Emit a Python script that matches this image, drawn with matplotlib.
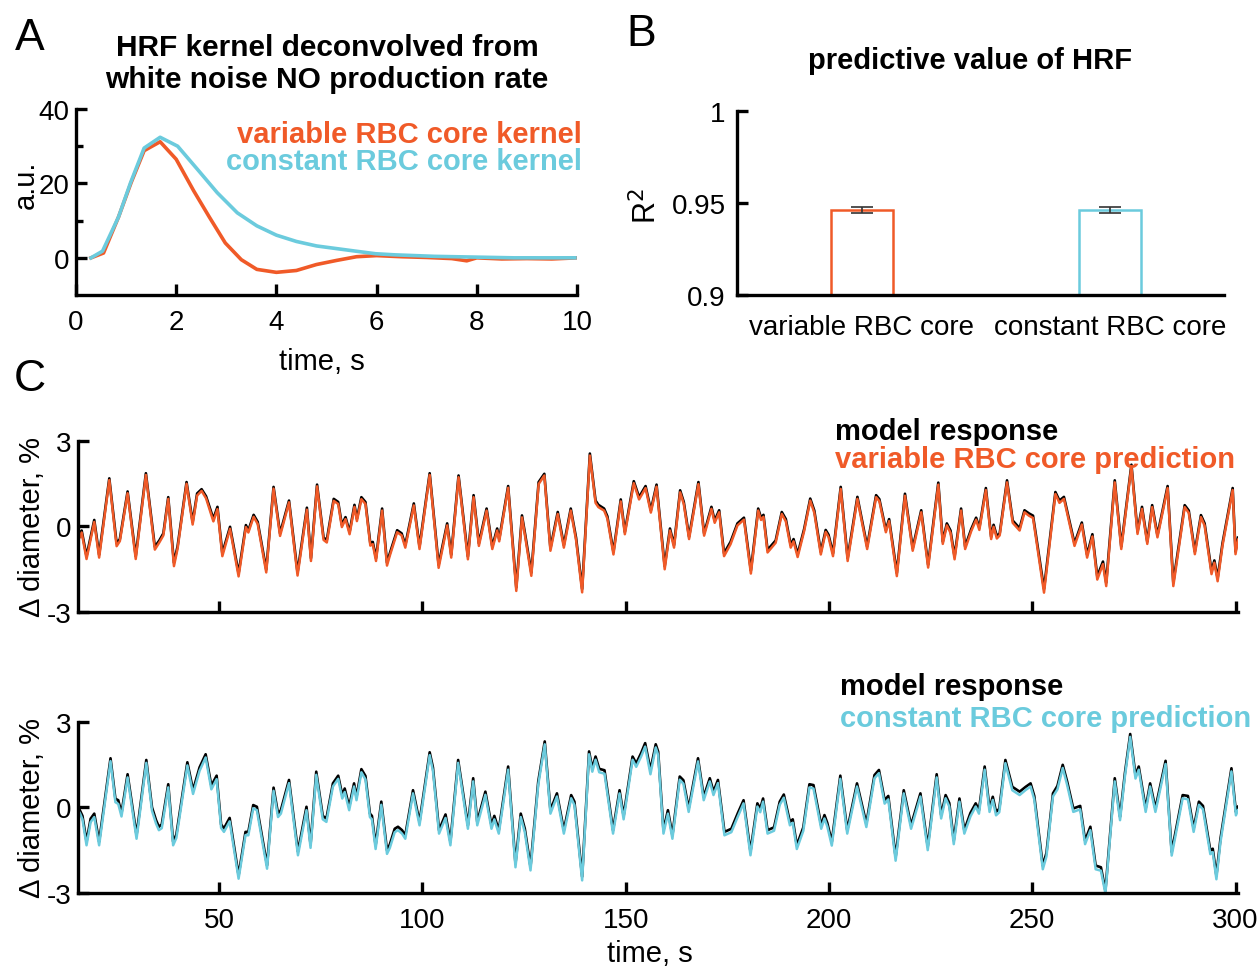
import matplotlib
matplotlib.use('Agg')
import matplotlib.pyplot as plt

plt.rcParams['font.family'] = ['Liberation Sans', 'DejaVu Sans']
plt.rcParams['axes.unicode_minus'] = False
plt.rcParams['lines.solid_joinstyle'] = 'round'

orange = '#F05A28'
cyan = '#6BCBDD'

# panel A: deconvolved HRF kernels (a.u.)
var_kt = [0.3, 0.55, 0.85, 1.1, 1.36, 1.68, 2.0, 2.35, 2.66, 2.98, 3.3, 3.61, 4.0, 4.4,
          4.8, 5.2, 5.6, 6.0, 6.5, 7.0, 7.5, 7.8, 8.0, 8.5, 9.0, 9.5, 10.0]
var_kernel = [0, 1.3, 11, 20.2, 28.8, 31.2, 26.5, 18, 11, 4, -0.5, -3.1, -3.9, -3.4,
              -1.8, -0.7, 0.3, 0.6, 0.3, 0.1, -0.2, -0.8, 0, -0.3, -0.2, -0.3, 0]
con_kt = [0.3, 0.53, 0.85, 1.09, 1.36, 1.68, 2.03, 2.43, 2.82, 3.22, 3.61, 4.0, 4.4,
          4.8, 5.19, 5.58, 5.98, 6.37, 7.16, 7.95, 8.74, 9.96]
con_kernel = [0, 1.8, 11, 20.2, 29.5, 32.4, 30, 23.7, 17.5, 12.1, 8.6, 6.1, 4.4,
              3.2, 2.5, 1.8, 1.1, 0.8, 0.4, 0.2, 0, 0]

# panel B: R^2 of the prediction
bar_names = ['variable RBC core', 'constant RBC core']
bar_r2 = [0.9462, 0.9463]
bar_err = [0.0018, 0.0015]

# panel C top: model response vs variable RBC core prediction
top_t = [15.8, 16.2, 17.4, 19.3, 20.5, 23.0, 24.8, 25.6, 27.5, 29.5,
         32.0, 34.2, 35.3, 36.3, 37.5, 38.9, 39.8, 42.0, 43.5, 44.6,
         45.7, 46.8, 48.6, 49.6, 50.8, 52.7, 54.8, 56.6, 57.2, 58.5,
         59.5, 61.6, 63.4, 65.0, 67.2, 69.3, 71.6, 72.6, 74.1, 75.7,
         76.5, 78.2, 79.3, 80.2, 81.1, 82.1, 83.3, 83.9, 85.0, 86.0,
         87.2, 87.8, 88.6, 90.1, 91.3, 92.0, 93.8, 94.9, 95.8, 97.9,
         99.3, 101.8, 104.0, 106.1, 107.1, 108.9, 111.2, 112.6, 113.9, 115.8,
         117.2, 118.4, 118.9, 121.1, 123.1, 124.5, 125.3, 126.8, 128.6, 130.0,
         131.5, 133.3, 134.8, 136.5, 137.8, 139.3, 141.2, 142.6, 143.3, 144.7,
         145.5, 147.0, 148.8, 149.8, 152.0, 153.3, 154.9, 156.2, 157.6, 159.6,
         160.9, 161.9, 163.4, 164.3, 165.6, 167.9, 169.3, 171.1, 171.9, 173.0,
         174.2, 175.8, 177.5, 179.1, 180.8, 182.6, 183.3, 183.9, 184.9, 186.9,
         188.4, 189.4, 190.6, 191.3, 192.3, 193.9, 195.4, 196.4, 198.0, 199.2,
         199.9, 201.0, 202.9, 204.6, 207.0, 209.4, 211.6, 212.4, 214.0, 214.8,
         216.7, 218.7, 220.6, 222.7, 224.4, 226.9, 228.0, 229.0, 229.9, 230.9,
         232.5, 233.5, 235.0, 236.2, 237.0, 238.6, 239.9, 240.5, 241.3, 242.0,
         243.8, 245.2, 246.9, 248.1, 249.2, 250.2, 252.9, 255.7, 256.7, 257.8,
         260.4, 262.2, 263.5, 264.8, 266.0, 267.4, 268.2, 270.3, 271.9, 274.4,
         275.9, 277.0, 278.3, 279.5, 280.8, 283.3, 284.7, 287.5, 288.5, 290.0,
         291.5, 292.4, 294.1, 294.8, 295.6, 296.8, 299.3, 300.0, 300.6]
top_model = [-0.30, -0.15, -1.05, 0.22, -1.00, 1.68, -0.60, -0.45, 1.22, -1.05,
             1.86, -0.72, -0.50, -0.25, 1.02, -1.28, -0.70, 1.55, 0.15, 1.15,
             1.30, 1.05, 0.26, 0.68, -0.95, -0.02, -1.65, 0.04, -0.15, 0.40,
             0.15, -1.52, 1.38, -0.25, 0.90, -1.62, 0.65, -1.12, 1.46, -0.40,
             -0.48, 0.96, 0.85, 0.05, 0.32, -0.20, 0.75, 0.26, 1.02, 0.85,
             -0.60, -0.55, -1.12, 0.62, -1.28, -0.95, -0.14, -0.25, -0.66, 0.80,
             -0.71, 1.86, -1.35, 0.10, -1.00, 1.78, -1.06, 1.09, -0.60, 0.62,
             -0.71, -0.08, -0.45, 1.41, -2.15, 0.38, -0.30, -1.63, 1.55, 1.84,
             -0.77, 0.50, -0.66, 0.62, -0.40, -2.20, 2.55, 0.90, 0.75, 0.62,
             0.35, -0.90, 0.94, -0.20, 1.58, 1.02, 1.41, 0.56, 1.46, -1.40,
             -0.08, -0.66, 1.26, 0.85, -0.37, 1.55, -0.25, 0.68, 0.20, 0.56,
             -0.95, -0.55, 0.10, 0.30, -1.55, 0.62, 0.30, 0.40, -0.83, -0.50,
             0.50, 0.25, -0.66, -0.45, -0.98, -0.10, 0.97, 0.55, -0.90, -0.13,
             -0.30, -0.95, 1.38, -1.12, 1.03, -0.71, 1.09, 0.95, -0.13, 0.25,
             -1.64, 1.14, -0.77, 0.56, -1.35, 1.53, -0.54, 0.10, -0.15, -1.06,
             0.62, -0.71, -0.10, 0.30, -0.05, 1.34, -0.37, 0.05, -0.35, -0.25,
             1.61, 0.20, -0.07, 0.56, 0.45, 0.37, -2.20, 1.20, 0.90, 1.03,
             -0.60, 0.13, -1.00, -0.28, -1.76, -1.24, -1.98, 1.61, -0.71, 2.16,
             -0.19, 0.68, -0.54, 0.74, -0.31, 1.41, -1.98, 0.74, 0.55, -0.89,
             0.39, 0.10, -1.58, -1.20, -1.82, -0.60, 1.34, -0.89, -0.40]
top_pred = [-0.38, -0.22, -1.15, 0.15, -1.10, 1.62, -0.70, -0.52, 1.16, -1.15,
            1.80, -0.82, -0.57, -0.32, 0.96, -1.40, -0.78, 1.49, 0.06, 1.08,
            1.24, 0.98, 0.17, 0.60, -1.05, -0.09, -1.76, -0.03, -0.22, 0.33,
            0.08, -1.62, 1.32, -0.34, 0.84, -1.73, 0.58, -1.22, 1.40, -0.48,
            -0.57, 0.89, 0.78, -0.03, 0.25, -0.28, 0.68, 0.18, 0.95, 0.78,
            -0.68, -0.63, -1.22, 0.55, -1.38, -1.03, -0.21, -0.32, -0.75, 0.73,
            -0.80, 1.80, -1.46, 0.03, -1.10, 1.72, -1.16, 1.02, -0.69, 0.55,
            -0.80, -0.15, -0.53, 1.35, -2.27, 0.31, -0.38, -1.74, 1.48, 1.78,
            -0.86, 0.43, -0.75, 0.55, -0.48, -2.32, 2.48, 0.82, 0.67, 0.55,
            0.27, -0.99, 0.87, -0.28, 1.51, 0.94, 1.34, 0.48, 1.39, -1.51,
            -0.15, -0.75, 1.19, 0.78, -0.45, 1.48, -0.33, 0.61, 0.12, 0.49,
            -1.05, -0.63, 0.03, 0.23, -1.66, 0.55, 0.22, 0.33, -0.92, -0.58,
            0.43, 0.17, -0.75, -0.53, -1.08, -0.17, 0.90, 0.47, -0.99, -0.20,
            -0.38, -1.05, 1.31, -1.22, 0.96, -0.80, 1.02, 0.88, -0.21, 0.18,
            -1.75, 1.07, -0.86, 0.49, -1.45, 1.46, -0.62, 0.03, -0.23, -1.16,
            0.55, -0.80, -0.17, 0.23, -0.13, 1.27, -0.45, -0.02, -0.43, -0.32,
            1.54, 0.12, -0.15, 0.49, 0.37, 0.29, -2.33, 1.13, 0.82, 0.96,
            -0.69, 0.06, -1.10, -0.36, -1.87, -1.33, -2.10, 1.54, -0.80, 2.10,
            -0.27, 0.61, -0.62, 0.67, -0.39, 1.34, -2.10, 0.67, 0.47, -0.98,
            0.32, 0.02, -1.68, -1.28, -1.93, -0.68, 1.27, -0.98, -0.47]

# panel C bottom: model response vs constant RBC core prediction
bot_t = [15.75, 16.4, 17.4, 18.4, 19.3, 20.5, 23.3, 24.5, 25.2, 26.0,
         27.5, 29.7, 32.1, 33.5, 34.5, 35.2, 35.9, 37.5, 38.7, 39.5,
         42.2, 43.6, 45.2, 46.7, 48.1, 49.4, 50.5, 51.2, 52.6, 54.8,
         56.5, 57.2, 58.4, 59.3, 61.8, 63.4, 64.5, 65.2, 67.2, 69.4,
         71.5, 72.5, 73.9, 75.5, 76.4, 78.0, 79.3, 80.3, 80.9, 82.0,
         83.2, 83.8, 85.0, 86.0, 87.1, 87.6, 88.5, 89.9, 91.3, 92.0,
         93.2, 94.0, 95.0, 95.8, 97.7, 99.3, 101.8, 102.6, 104.1, 105.7,
         106.9, 108.8, 111.2, 112.5, 113.5, 115.5, 117.0, 117.7, 118.8, 121.1,
         122.9, 124.2, 125.2, 126.6, 128.5, 130.1, 131.5, 133.1, 134.8, 136.6,
         137.4, 139.3, 141.0, 141.8, 142.6, 143.5, 144.8, 146.9, 148.5, 149.5,
         151.7, 152.6, 153.8, 154.8, 156.1, 157.4, 158.0, 159.3, 160.4, 161.5,
         163.3, 164.2, 165.5, 167.8, 169.2, 170.7, 171.6, 172.7, 174.3, 176.0,
         177.6, 179.0, 180.7, 182.4, 183.1, 183.8, 184.9, 186.5, 187.9, 188.9,
         190.4, 191.1, 192.1, 193.7, 195.2, 196.2, 198.1, 198.9, 199.6, 200.7,
         202.8, 204.5, 206.9, 209.2, 211.2, 212.3, 213.7, 214.6, 216.4, 218.4,
         220.2, 222.5, 224.3, 226.5, 227.6, 228.7, 229.6, 230.7, 232.1, 233.3,
         234.8, 236.1, 236.9, 238.3, 239.5, 240.3, 241.1, 241.9, 243.4, 245.1,
         246.9, 248.4, 249.6, 250.5, 252.6, 253.5, 255.1, 256.2, 257.5, 258.6,
         260.1, 261.8, 263.0, 264.3, 265.6, 266.9, 268.0, 270.3, 271.6, 272.8,
         274.1, 275.4, 276.2, 277.9, 279.0, 280.3, 282.8, 284.3, 287.0, 288.3,
         289.7, 291.0, 292.0, 293.8, 294.4, 295.3, 296.3, 299.0, 300.1, 300.6]
bot_model = [-0.10, -0.30, -1.20, -0.40, -0.22, -1.20, 1.72, 0.30, 0.25, -0.20,
             1.16, -0.97, 1.66, 0.00, -0.45, -0.68, -0.60, 0.81, -1.20, -0.95,
             1.58, 0.60, 1.40, 1.86, 0.76, 1.11, -0.60, -0.74, -0.37, -2.38,
             -0.86, -0.86, 0.08, 0.02, -2.03, 0.69, -0.22, -0.10, 0.96, -1.55,
             0.02, -1.30, 1.25, -0.30, -0.39, 0.84, 1.11, 0.43, 0.66, 0.02,
             0.84, 0.37, 1.34, 1.10, -0.22, -0.30, -1.33, 0.20, -1.50, -1.30,
             -0.75, -0.68, -0.80, -0.98, 0.60, -0.51, 1.93, 1.40, -0.80, -0.25,
             -1.20, 1.66, -0.63, 1.02, -0.51, 0.55, -0.63, -0.30, -0.80, 1.43,
             -1.97, -0.22, -0.75, -2.08, 0.90, 2.31, -0.10, 0.49, -0.80, 0.43,
             0.20, -2.43, 1.96, 1.37, 1.78, 1.35, 1.30, -0.80, 0.60, -0.30,
             1.78, 1.54, 1.90, 2.25, 1.31, 2.21, 1.95, -0.80, -0.10, -0.98,
             1.08, 0.95, -0.04, 1.72, 0.37, 1.02, 0.55, 0.96, -0.86, -0.75,
             -0.20, 0.25, -1.55, 0.14, -0.05, 0.31, -0.80, -0.70, 0.20, 0.45,
             -0.51, -0.42, -1.33, -0.70, 0.81, 0.78, -0.63, -0.27, -0.55, -1.21,
             1.11, -0.80, 0.84, -0.57, 1.13, 1.31, 0.25, 0.40, -1.74, 0.60,
             -0.63, 0.49, -1.37, 1.16, -0.27, 0.43, 0.15, -1.16, 0.31, -0.80,
             -0.20, 0.14, -0.10, 1.43, -0.04, 0.37, -0.16, -0.05, 1.66, 0.72,
             0.55, 0.72, 0.84, 0.40, -2.04, -1.60, 0.49, 0.75, 1.49, 0.90,
             -0.04, 0.05, -1.16, -0.68, -2.04, -2.10, -2.92, 1.02, -0.33, 1.20,
             2.57, 1.13, 1.43, -0.04, 0.84, -0.04, 1.63, -1.56, 0.43, 0.40,
             -0.74, 0.20, 0.05, -1.51, -1.45, -2.39, -1.10, 1.37, -0.16, 0.02]
bot_pred = [-0.20, -0.42, -1.33, -0.52, -0.34, -1.33, 1.62, 0.18, 0.12, -0.32,
            1.05, -1.10, 1.56, -0.12, -0.57, -0.80, -0.73, 0.70, -1.33, -1.07,
            1.47, 0.47, 1.28, 1.75, 0.63, 0.99, -0.72, -0.86, -0.49, -2.50,
            -0.97, -0.98, -0.03, -0.10, -2.15, 0.58, -0.34, -0.22, 0.85, -1.68,
            -0.10, -1.42, 1.14, -0.42, -0.51, 0.73, 1.00, 0.31, 0.54, -0.10,
            0.73, 0.25, 1.23, 0.98, -0.34, -0.42, -1.46, 0.09, -1.63, -1.42,
            -0.87, -0.80, -0.92, -1.10, 0.49, -0.63, 1.83, 1.28, -0.92, -0.37,
            -1.33, 1.56, -0.75, 0.91, -0.63, 0.44, -0.75, -0.42, -0.92, 1.32,
            -2.10, -0.34, -0.87, -2.21, 0.79, 2.21, -0.22, 0.38, -0.92, 0.32,
            0.08, -2.56, 1.86, 1.25, 1.67, 1.23, 1.18, -0.92, 0.49, -0.42,
            1.67, 1.42, 1.78, 2.13, 1.16, 2.10, 1.83, -0.92, -0.22, -1.10,
            0.97, 0.83, -0.16, 1.61, 0.25, 0.91, 0.43, 0.85, -0.98, -0.87,
            -0.32, 0.14, -1.68, 0.03, -0.17, 0.20, -0.92, -0.82, 0.09, 0.34,
            -0.63, -0.54, -1.46, -0.82, 0.70, 0.66, -0.75, -0.39, -0.67, -1.34,
            1.00, -0.92, 0.73, -0.69, 1.02, 1.20, 0.13, 0.28, -1.87, 0.49,
            -0.75, 0.38, -1.50, 1.05, -0.39, 0.32, 0.03, -1.29, 0.20, -0.92,
            -0.32, 0.03, -0.22, 1.32, -0.16, 0.26, -0.28, -0.17, 1.55, 0.60,
            0.43, 0.61, 0.73, 0.28, -2.17, -1.72, 0.38, 0.63, 1.38, 0.78,
            -0.16, -0.07, -1.29, -0.80, -2.17, -2.22, -3.02, 0.91, -0.45, 1.09,
            2.47, 1.01, 1.32, -0.16, 0.73, -0.16, 1.52, -1.69, 0.32, 0.28,
            -0.86, 0.09, -0.07, -1.64, -1.57, -2.52, -1.22, 1.26, -0.28, -0.10]

c_xticks = [50, 100, 150, 200, 250, 300]


def style_axes(ax):
    # matlab-like look: only left/bottom spines, ticks pointing in
    for s in ['top', 'right']:
        ax.spines[s].set_visible(False)
    for s in ['left', 'bottom']:
        ax.spines[s].set_linewidth(2.4)
    ax.tick_params(direction='in', length=8, width=2.4, labelsize=20)
    ax.tick_params(axis='y', pad=5)
    ax.tick_params(axis='x', pad=10)


fig = plt.figure(figsize=(12.6, 9.7), dpi=100)

# ---- A ----
axA = fig.add_axes([0.0603, 0.6948, 0.3976, 0.1918])
axA.plot(var_kt, var_kernel, color=orange, lw=2.6)
axA.plot(con_kt, con_kernel, color=cyan, lw=2.6)
axA.set_xlim(0, 10)
axA.set_ylim(-10, 40)
axA.set_xticks([0, 2, 4, 6, 8, 10])
axA.set_yticks([0, 20, 40])
axA.set_yticks([10, 30], minor=True)
style_axes(axA)
axA.tick_params(which='minor', direction='in', length=5, width=2.4)
axA.set_xlabel('time, s', fontsize=21)
axA.xaxis.set_label_coords(0.49, -0.28)
axA.set_ylabel('a.u.', fontsize=21)
axA.yaxis.set_label_coords(-0.072, 0.6)
axA.text(1.01, 0.865, 'variable RBC core kernel', color=orange, fontsize=21,
         fontweight='bold', ha='right', va='center', transform=axA.transAxes)
axA.text(1.01, 0.72, 'constant RBC core kernel', color=cyan, fontsize=21,
         fontweight='bold', ha='right', va='center', transform=axA.transAxes)
fig.text(327 / 1260, 1 - 64 / 970, 'HRF kernel deconvolved from\nwhite noise NO production rate',
         ha='center', va='center', fontsize=21.5, fontweight='bold', linespacing=1.2)

# ---- B ----
axB = fig.add_axes([0.5849, 0.6948, 0.3865, 0.1897])
axB.bar([1, 2], bar_r2, width=0.25, color='white', edgecolor=[orange, cyan], linewidth=1.8)
axB.errorbar([1, 2], bar_r2, yerr=bar_err, fmt='none', ecolor='#333333',
             elinewidth=1.2, capsize=8, capthick=1.2)
axB.set_xlim(0.496, 2.46)
axB.set_ylim(0.9, 1.0)
axB.set_yticks([0.9, 0.95, 1.0])
axB.set_yticklabels(['0.9', '0.95', '1'])
axB.set_xticks([1, 2])
axB.set_xticklabels(bar_names)
style_axes(axB)
axB.tick_params(axis='x', length=0, pad=14)
axB.tick_params(axis='y', pad=8)
axB.set_ylabel('R$^2$', fontsize=22)
axB.yaxis.set_label_coords(-0.152, 0.49)
fig.text(970 / 1260, 1 - 61 / 970, 'predictive value of HRF', ha='center', va='center',
         fontsize=21, fontweight='bold')

# ---- C top ----
axC1 = fig.add_axes([0.0619, 0.3683, 0.9206, 0.1763])
axC1.plot(top_t, top_model, color='black', lw=1.9)
axC1.plot(top_t, top_pred, color=orange, lw=1.8)
axC1.set_xlim(15.3, 300.6)
axC1.set_ylim(-3, 3)
axC1.set_yticks([-3, 0, 3])
axC1.set_xticks(c_xticks)
style_axes(axC1)
axC1.tick_params(axis='x', labelbottom=False)
axC1.set_ylabel('\u0394 diameter, %', fontsize=21)
axC1.yaxis.set_label_coords(-0.028, 0.5)
axC1.text(0.6526, 1.058, 'model response', color='black', fontsize=21, fontweight='bold',
          ha='left', va='center', transform=axC1.transAxes)
axC1.text(0.6526, 0.895, 'variable RBC core prediction', color=orange, fontsize=21,
          fontweight='bold', ha='left', va='center', transform=axC1.transAxes)

# ---- C bottom ----
axC2 = fig.add_axes([0.0619, 0.0784, 0.9206, 0.1765])
axC2.plot(bot_t, bot_model, color='black', lw=1.9)
axC2.plot(bot_t, bot_pred, color=cyan, lw=1.8)
axC2.set_xlim(15.3, 300.6)
axC2.set_ylim(-3, 3)
axC2.set_yticks([-3, 0, 3])
axC2.set_xticks(c_xticks)
style_axes(axC2)
axC2.set_xlabel('time, s', fontsize=21)
axC2.xaxis.set_label_coords(0.493, -0.27)
axC2.set_ylabel('\u0394 diameter, %', fontsize=21)
axC2.yaxis.set_label_coords(-0.028, 0.5)
axC2.text(0.657, 1.209, 'model response', color='black', fontsize=21, fontweight='bold',
          ha='left', va='center', transform=axC2.transAxes)
axC2.text(0.657, 1.023, 'constant RBC core prediction', color=cyan, fontsize=21,
          fontweight='bold', ha='left', va='center', transform=axC2.transAxes)

# panel letters
fig.text(30 / 1260, 1 - 38 / 970, 'A', fontsize=32, ha='center', va='center')
fig.text(641 / 1260, 1 - 35 / 970, 'B', fontsize=32, ha='center', va='center')
fig.text(30 / 1260, 1 - 380 / 970, 'C', fontsize=32, ha='center', va='center')

fig.savefig('out.png', dpi=100)
